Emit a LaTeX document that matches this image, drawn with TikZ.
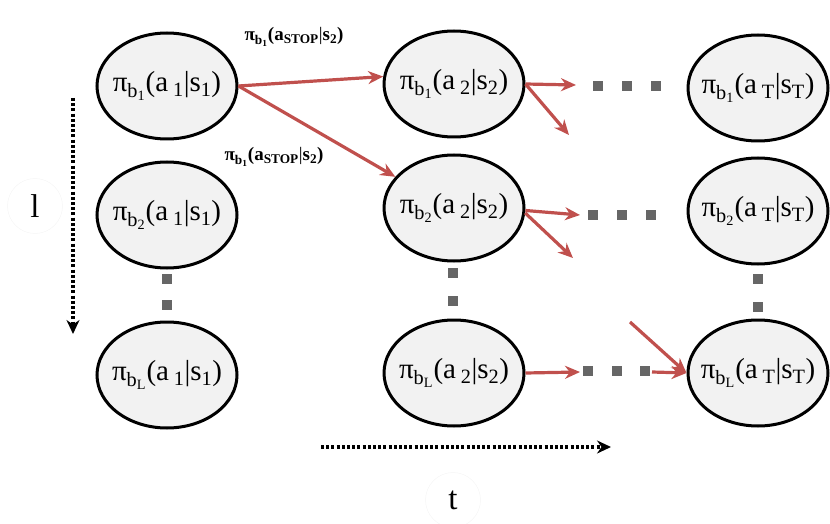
\documentclass[tikz,border=0pt]{standalone}
\usepackage{fontspec}
\setmainfont{Liberation Serif}
\usetikzlibrary{shapes.geometric,arrows.meta}
\definecolor{redarr}{RGB}{192,80,77}
\definecolor{dotgray}{RGB}{102,102,102}
\definecolor{ellfill}{RGB}{242,242,242}
\newcommand{\pol}[3]{π\textsubscript{b\textsubscript{#1}}(a\,\textsubscript{#2}|s\textsubscript{#3})}
\newcommand{\stoplab}{\textbf{π\textsubscript{b\textsubscript{1}}(a\textsubscript{STOP}}|\textbf{s\textsubscript{2})}}
\tikzset{
  pnode/.style={ellipse, draw=black, line width=3pt, fill=ellfill,
    minimum width=140pt, minimum height=106pt, inner xsep=-16pt, inner ysep=0pt,
    font=\fontsize{29}{30}\selectfont},
  redarrow/.style={draw=redarr, line width=3.2pt, -{Stealth[length=15pt,width=13pt]}},
  dotarrow/.style={draw=black, line width=3.4pt, dash pattern=on 3pt off 2.2pt,
    -{Stealth[length=14pt,width=13pt]}},
  sq/.style={fill=dotgray, minimum size=10pt, inner sep=0pt},
  elabel/.style={font=\fontsize{19}{20}\selectfont, inner sep=0pt},
  axlabel/.style={circle, draw=black!4, line width=0.5pt, minimum size=55pt,
    font=\fontsize{33}{34}\selectfont}
}
\begin{document}
\begin{tikzpicture}[x=1pt,y=-1pt]
\useasboundingbox (0,0) rectangle (830,524);
% nodes
\node[pnode] (n11) at (167,86) {\pol{1}{1}{1}};
\node[pnode] (n21) at (167,215) {\pol{2}{1}{1}};
\node[pnode] (n31) at (167,375) {\pol{L}{1}{1}};
\node[pnode] (n12) at (454,84) {\pol{1}{2}{2}};
\node[pnode] (n22) at (454,208) {\pol{2}{2}{2}};
\node[pnode] (n32) at (454,373) {\pol{L}{2}{2}};
\node[pnode] (n13) at (758,88) {\pol{1}{T}{T}};
\node[pnode] (n23) at (758,211) {\pol{2}{T}{T}};
\node[pnode] (n33) at (758,373) {\pol{L}{T}{T}};
% dots
\foreach \x/\n in {598/a,627/b,656/c} \node[sq] (r1\n) at (\x,86) {};
\foreach \x/\n in {593/a,622/b,651/c} \node[sq] (r2\n) at (\x,215) {};
\foreach \x/\n in {588/a,617/b,645/c} \node[sq] (r3\n) at (\x,371) {};
\foreach \y/\n in {279/a,305/b} \node[sq] (c1\n) at (167,\y) {};
\foreach \y/\n in {273/a,301/b} \node[sq] (c2\n) at (453,\y) {};
\foreach \y/\n in {279/a,307/b} \node[sq] (c3\n) at (758,\y) {};
% free ends
\coordinate (e1) at (576,85);
\coordinate (e2) at (569,135);
\coordinate (e3) at (580,215);
\coordinate (e4) at (573,258);
\coordinate (e5) at (580,372);
\coordinate (s1) at (652,372);
\coordinate (s2) at (630,322);
% red arrows
\draw[redarrow] (n11.east) -- (n12.174);
\draw[redarrow] (n11.east) -- (n22.152);
\draw[redarrow] (n12.east) -- (e1);
\draw[redarrow] (n12.east) -- (e2);
\draw[redarrow] (n22.-2) -- (e3);
\draw[redarrow] (n22.-4) -- (e4);
\draw[redarrow] (n32.east) -- (e5);
\draw[redarrow] (s1) -- (n33.west);
\draw[redarrow] (s2) -- (n33.west);
% edge labels
\node[elabel] (lab1) at (294,37) {\stoplab};
\node[elabel] (lab2) at (274,157) {\stoplab};
% axes
\coordinate (va) at (73,98);
\coordinate (vb) at (73,334);
\coordinate (ha) at (321,447);
\coordinate (hb) at (611,447);
\draw[dotarrow] (va) -- (vb);
\draw[dotarrow] (ha) -- (hb);
\node[axlabel] (ll) at (35,206) {l};
\node[axlabel] (tl) at (453,500) {t};
\end{tikzpicture}
\end{document}
